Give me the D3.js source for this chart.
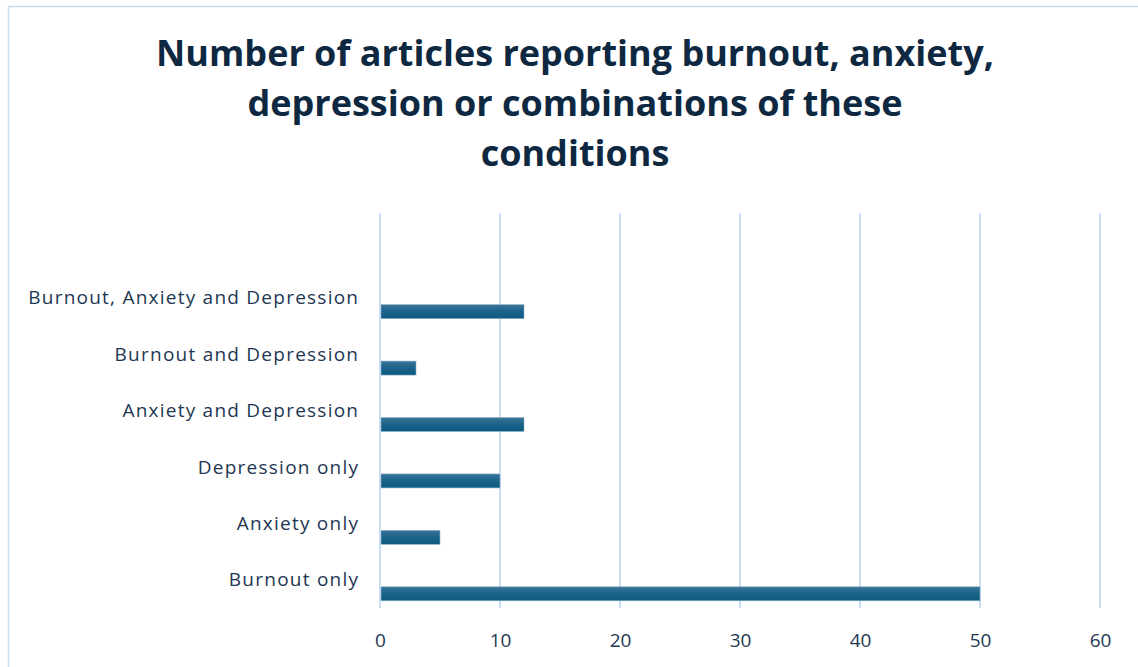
<!DOCTYPE html>
<html><head><meta charset="utf-8">
<script src="https://cdn.jsdelivr.net/npm/d3@7"></script>
<style>body{margin:0;background:#fff;} svg{display:block;}</style>
</head><body>
<svg id="c" width="1138" height="667"></svg>
<script>
const categories = ["Burnout only","Anxiety only","Depression only","Anxiety and Depression","Burnout and Depression","Burnout, Anxiety and Depression"];
const values = [50,5,10,12,3,12];
const xTicks = [0,10,20,30,40,50,60];
const titleLines = ["Number of articles reporting burnout, anxiety,","depression or combinations of these","conditions"];

const svg = d3.select("#c");
const defs = svg.append("defs");
const g = defs.append("linearGradient").attr("id","bg").attr("x1",0).attr("y1",0).attr("x2",0).attr("y2",1);
g.append("stop").attr("offset","0%").attr("stop-color","#3b7497");
g.append("stop").attr("offset","50%").attr("stop-color","#19638a");
g.append("stop").attr("offset","100%").attr("stop-color","#0c5a7f");

svg.append("rect").attr("x",8.5).attr("y",6.5).attr("width",1140).attr("height",680)
  .attr("fill","#fff").attr("stroke","#c9dcf0").attr("stroke-width",1.5);

const x = d3.scaleLinear().domain([0,60]).range([380,1100]);
const yb = d3.scaleBand().domain(["", ...categories.slice().reverse()]).range([213,608]);

svg.append("g").selectAll("line").data(xTicks).join("line")
  .attr("x1",d=>x(d)).attr("x2",d=>x(d)).attr("y1",213).attr("y2",608)
  .attr("stroke","#cbdff4").attr("stroke-width",2);

const bw = yb.bandwidth();
svg.append("g").selectAll("rect").data(categories).join("rect")
  .attr("x",x(0)+1).attr("y",d=>yb(d)+bw/2+7)
  .attr("width",(d,i)=>x(values[i])-x(0)-1).attr("height",14)
  .attr("fill","url(#bg)").attr("stroke","#8fb3cc").attr("stroke-width",0.6);

const labs = svg.append("g").selectAll("text").data(categories).join("text")
  .attr("x",358).attr("y",d=>yb(d)+bw/2+1.5)
  .attr("text-anchor","end").attr("dominant-baseline","middle")
  .attr("font-family","Open Sans, sans-serif").attr("font-size",19).attr("fill","#1e3752")
  .text(d=>d);
const lw = labs.nodes()[5].getComputedTextLength();
const ls = (331 - lw) / (categories[5].length);
labs.attr("letter-spacing", ls).attr("x", 358 + ls);

const ax = d3.axisBottom(x).tickValues(xTicks).tickSize(0).tickPadding(0);
const axg = svg.append("g").attr("transform","translate(0,640)").call(ax);
axg.select(".domain").remove();
axg.selectAll("text").attr("font-family","Open Sans, sans-serif").attr("font-size",19)
  .attr("fill","#1e3752").attr("dy","0.35em").attr("y",0);

const tt = svg.append("g").selectAll("text").data(titleLines).join("text")
  .attr("x",575).attr("y",(d,i)=>56+i*50)
  .attr("text-anchor","middle").attr("dominant-baseline","middle")
  .attr("font-family","Open Sans, sans-serif").attr("font-weight",700)
  .attr("font-size",32).attr("fill","#0e2841").text(d=>d);
const w0 = tt.nodes()[0].getComputedTextLength();
const fs = 32*865/w0;
tt.attr("font-size",Math.min(fs,36));
</script>
</body></html>
